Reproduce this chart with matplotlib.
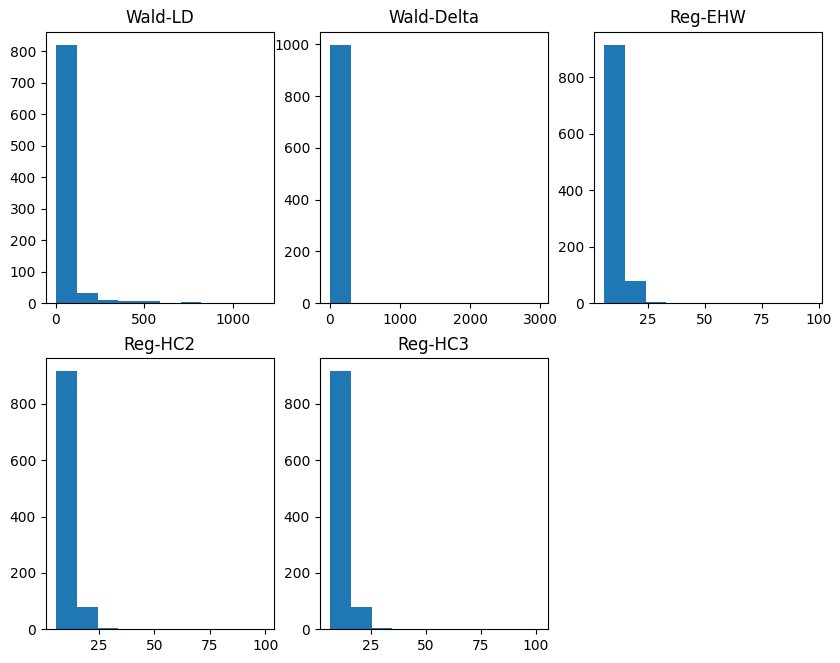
import numpy as np
import matplotlib.pyplot as plt

titles = ['Wald-LD', 'Wald-Delta', 'Reg-EHW', 'Reg-HC2', 'Reg-HC3']

# data range of each panel (min, max), 10 equal bins
ranges = [
    (1.0, 1175.0),
    (6.0, 2960.0),
    (5.8, 96.8),
    (5.7, 99.2),
    (6.4, 100.8),
]

# counts per bin
counts = [
    [821, 33, 10, 7, 7, 0, 4, 0, 0, 1],
    [999, 0, 0, 0, 0, 0, 0, 0, 0, 1],
    [915, 79, 4, 1, 0, 0, 0, 0, 0, 1],
    [916, 80, 4, 0, 0, 0, 0, 0, 0, 1],
    [916, 80, 4, 0, 0, 0, 0, 0, 0, 1],
]

fig, axes = plt.subplots(2, 3, figsize=(8.4, 6.63), dpi=100)
fig.subplots_adjust(left=0.0544, right=0.9786, bottom=0.0508, top=0.952,
                    wspace=0.2, hspace=0.203)
axes = axes.flatten()

for i, title in enumerate(titles):
    lo, hi = ranges[i]
    edges = np.linspace(lo, hi, 11)
    axes[i].hist(edges[:-1], bins=edges, weights=counts[i])
    axes[i].set_title(title)

fig.delaxes(axes[5])

plt.savefig('out.png', dpi=100)
